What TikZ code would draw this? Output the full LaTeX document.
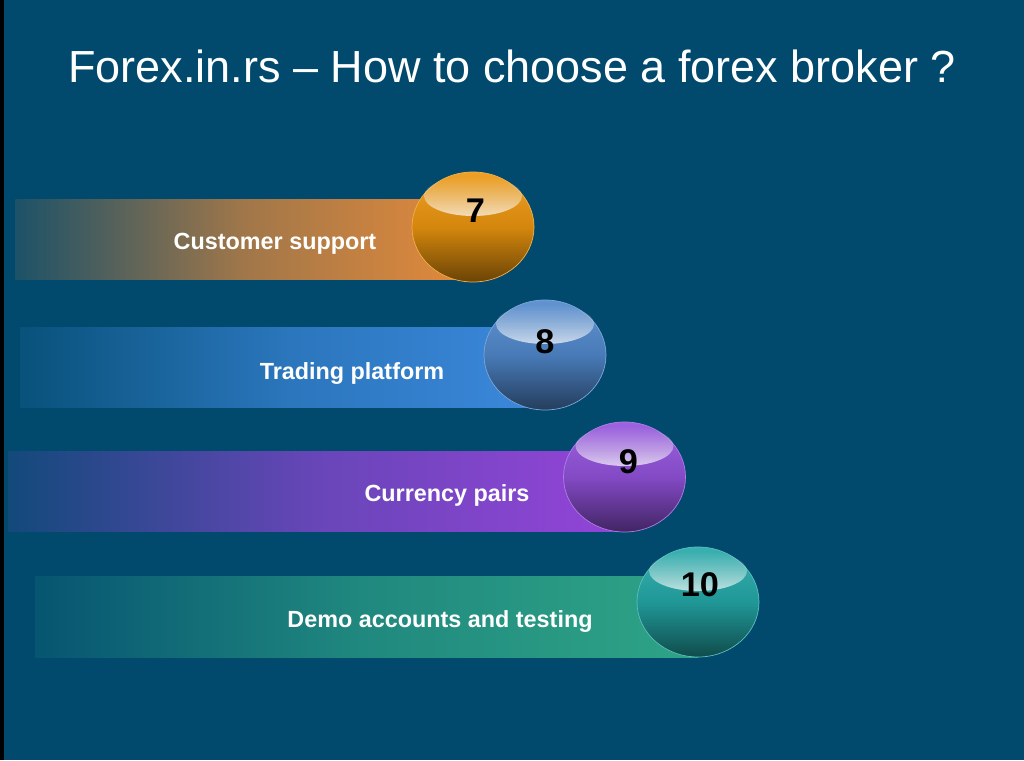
\documentclass[tikz,border=0pt]{standalone}
\usepackage{fontspec}
\setmainfont{Liberation Sans}
\usetikzlibrary{shapes.geometric,fadings}
\definecolor{bgblue}{RGB}{1,74,110}
\definecolor{barorange}{RGB}{229,138,58}
\definecolor{ballorange}{RGB}{236,150,14}
\definecolor{barblue}{RGB}{60,136,220}
\definecolor{ballblue}{RGB}{80,136,204}
\definecolor{barpurple}{RGB}{148,68,216}
\definecolor{ballpurple}{RGB}{146,82,220}
\definecolor{barteal}{RGB}{46,164,134}
\definecolor{ballteal}{RGB}{36,168,168}
\tikzset{
  barbox/.style={
    rectangle,
    anchor=west,
    minimum height=1.6cm,
    inner sep=0pt,
    left color=#1!12!bgblue,
    right color=#1,
    middle color=#1!70!bgblue
  },
  ballnode/.style={
    ellipse,
    minimum width=2.44cm,
    minimum height=2.2cm,
    inner sep=0pt,
    draw=#1!75!white,
    line width=0.4pt,
    top color=#1!90!white,
    bottom color=#1!45!black,
    middle color=#1!90!black
  },
  gloss/.style={
    white,
    fill opacity=0.7,
    path fading=north
  },
  barlabel/.style={
    anchor=base,
    inner sep=0pt,
    text=white,
    font=\fontsize{13.3}{16}\selectfont\bfseries
  },
  numlabel/.style={
    anchor=base,
    inner sep=0pt,
    text=black,
    font=\fontsize{19.5}{24}\selectfont\bfseries
  },
  titletext/.style={
    anchor=base,
    inner sep=0pt,
    text=white,
    font=\fontsize{25.6}{30}\selectfont
  }
}
\begin{document}
\begin{tikzpicture}
  \fill[bgblue] (0,0) rectangle (20.48,15.2);
  \fill[black] (0,0) rectangle (0.08,15.2);
  \useasboundingbox (0,0) rectangle (20.48,15.2);

  \node[titletext] (title) at (10.24,13.54)
    {Forex.in.rs -- How to choose a forex broker ?};

  \node[barbox=barorange, minimum width=9.16cm] (bar7) at (0.3,10.4) {};
  \node[barbox=barblue, minimum width=10.5cm] (bar8) at (0.4,7.84) {};
  \node[barbox=barpurple, minimum width=12.34cm] (bar9) at (0.16,5.36) {};
  \node[barbox=barteal, minimum width=13.26cm] (bar10) at (0.7,2.86) {};

  \node[barlabel] (lab7) at (5.5,10.2) {Customer support};
  \node[barlabel] (lab8) at (7.04,7.6) {Trading platform};
  \node[barlabel] (lab9) at (8.94,5.18) {Currency pairs};
  \node[barlabel] (lab10) at (8.8,2.64) {Demo accounts and testing};

  \node[ballnode=ballorange] (ball7) at (9.46,10.66) {};
  \node[ballnode=ballblue] (ball8) at (10.9,8.1) {};
  \node[ballnode=ballpurple] (ball9) at (12.49,5.66) {};
  \node[ballnode=ballteal] (ball10) at (13.96,3.16) {};

  \fill[gloss] ([yshift=0.62cm]ball7.center) ellipse [x radius=0.98cm, y radius=0.4cm];
  \fill[gloss] ([yshift=0.62cm]ball8.center) ellipse [x radius=0.98cm, y radius=0.4cm];
  \fill[gloss] ([yshift=0.62cm]ball9.center) ellipse [x radius=0.98cm, y radius=0.4cm];
  \fill[gloss] ([yshift=0.62cm]ball10.center) ellipse [x radius=0.98cm, y radius=0.4cm];

  \node[numlabel] (num7) at ([xshift=0.05cm, yshift=0.08cm]ball7.center) {7};
  \node[numlabel] (num8) at ([yshift=0.02cm]ball8.center) {8};
  \node[numlabel] (num9) at ([xshift=0.08cm, yshift=0.06cm]ball9.center) {9};
  \node[numlabel] (num10) at ([xshift=0.04cm, yshift=0.1cm]ball10.center) {10};
\end{tikzpicture}
\end{document}
